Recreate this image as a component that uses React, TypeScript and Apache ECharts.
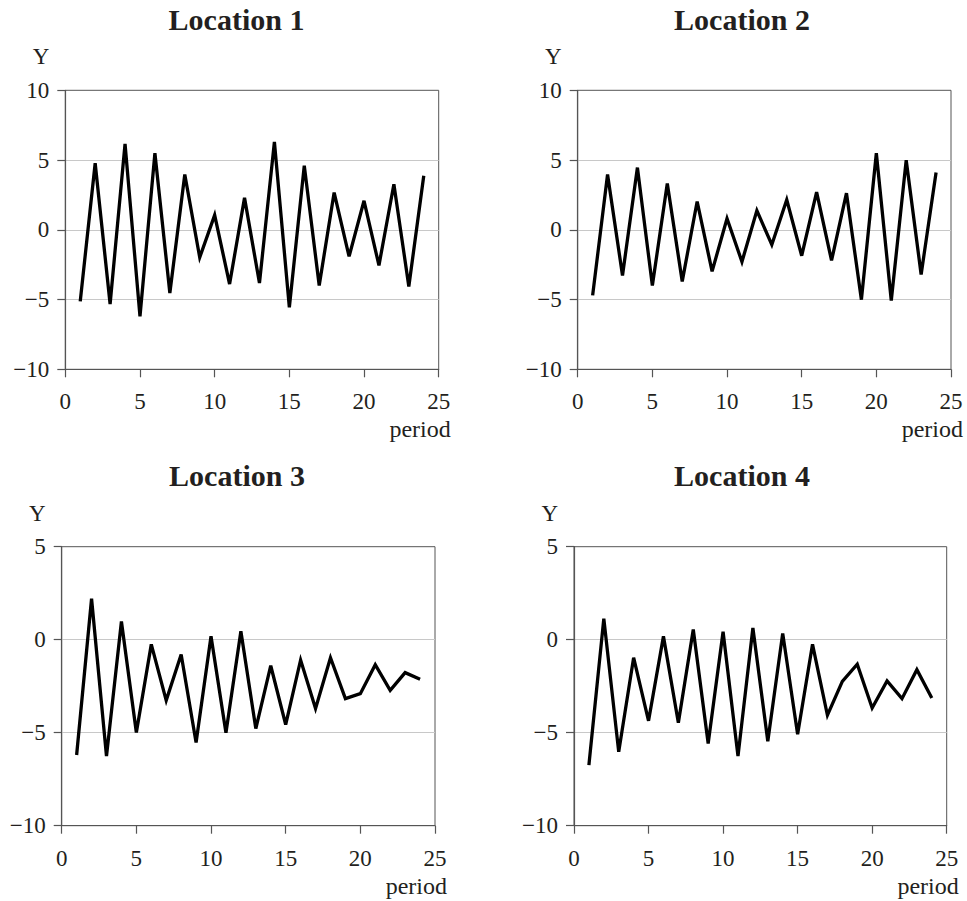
import React, { useEffect, useRef } from "react";
import * as echarts from "echarts";

const periods = Array.from({ length: 24 }, (_, i) => i + 1);

const titles = ["Location 1", "Location 2", "Location 3", "Location 4"];

const loc1 = [-5.13, 4.77, -5.32, 6.16, -6.2, 5.49, -4.53, 3.96, -1.98, 1.05, -3.89, 2.29, -3.82, 6.3, -5.56, 4.6, -3.99, 2.67, -1.91, 2.08, -2.55, 3.27, -4.06, 3.87];
const loc2 = [-4.7, 3.96, -3.27, 4.46, -4.0, 3.32, -3.7, 2.03, -2.98, 0.81, -2.29, 1.38, -1.07, 2.15, -1.86, 2.7, -2.2, 2.63, -5.01, 5.49, -5.08, 4.99, -3.2, 4.1];
const loc3 = [-6.2, 2.2, -6.26, 0.98, -4.99, -0.25, -3.26, -0.8, -5.53, 0.18, -5.0, 0.45, -4.78, -1.4, -4.56, -1.09, -3.7, -0.97, -3.17, -2.9, -1.34, -2.72, -1.77, -2.13];
const loc4 = [-6.74, 1.13, -6.03, -0.97, -4.36, 0.18, -4.47, 0.55, -5.58, 0.43, -6.26, 0.63, -5.46, 0.34, -5.08, -0.25, -4.06, -2.24, -1.32, -3.67, -2.22, -3.17, -1.61, -3.13];

const seriesValues = [loc1, loc2, loc3, loc4];
const yMin = [-10, -10, -10, -10];
const yMax = [10, 10, 5, 5];
const xMin = 0;
const xMax = 25;
const tickStep = 5;
const xName = "period";
const yName = "Y";

const grids = [
  { left: 65.3, top: 90.3, width: 373.4, height: 279 },
  { left: 577.7, top: 90.3, width: 373.3, height: 279 },
  { left: 61.7, top: 546.7, width: 373.3, height: 279 },
  { left: 574, top: 546.7, width: 372.7, height: 279 },
];
const titleCenters = [236.5, 742, 237, 742];

const FONT = "'Liberation Serif', 'DejaVu Serif', serif";
const TXT = "#231f20";
const AXIS = "#555555";

const fmt = (v: number) => String(v).replace("-", "\u2212");

export default function App() {
  const ref = useRef<HTMLDivElement>(null);
  useEffect(() => {
    if (!ref.current) return;
    const chart = echarts.init(ref.current, undefined, { renderer: "svg" });
    const option: any = {
      animation: false,
      backgroundColor: "#ffffff",
      title: titles.map((t, i) => ({
        text: t,
        left: titleCenters[i],
        top: grids[i].top - 86,
        textAlign: "center",
        padding: 0,
        textStyle: { fontFamily: FONT, fontWeight: "bold", fontSize: 30, color: TXT },
      })),
      grid: grids.map((g) => ({
        ...g,
        show: true,
        borderColor: AXIS,
        borderWidth: 1,
        containLabel: false,
      })),
      xAxis: grids.map((_, i) => ({
        type: "value",
        gridIndex: i,
        min: xMin,
        max: xMax,
        interval: tickStep,
        name: xName,
        nameLocation: "end",
        nameGap: 12,
        nameTextStyle: {
          fontFamily: FONT,
          fontSize: 24,
          color: TXT,
          align: "right",
          verticalAlign: "top",
          padding: [48, 0, 0, 0],
        },
        axisLine: { show: true, onZero: false, lineStyle: { color: AXIS, width: 1.2 } },
        axisTick: { show: true, length: 8, inside: false, lineStyle: { color: AXIS, width: 1.2 } },
        axisLabel: { fontFamily: FONT, fontSize: 23, color: TXT, margin: 21 },
        splitLine: { show: false },
      })),
      yAxis: grids.map((_, i) => ({
        type: "value",
        gridIndex: i,
        min: yMin[i],
        max: yMax[i],
        interval: tickStep,
        name: yName,
        nameLocation: "end",
        nameGap: 22,
        nameTextStyle: {
          fontFamily: FONT,
          fontSize: 23,
          color: TXT,
          align: "right",
          verticalAlign: "bottom",
          padding: [0, 16, 0, 0],
        },
        axisLine: { show: true, lineStyle: { color: AXIS, width: 1.2 } },
        axisTick: { show: true, length: 8, inside: false, lineStyle: { color: AXIS, width: 1.2 } },
        axisLabel: { fontFamily: FONT, fontSize: 23, color: TXT, margin: 16, formatter: fmt },
        splitLine: {
          show: true,
          showMinLine: false,
          showMaxLine: false,
          lineStyle: { color: "#c8c8c8", width: 1 },
        },
      })),
      series: seriesValues.map((vals, i) => ({
        type: "line",
        name: titles[i],
        xAxisIndex: i,
        yAxisIndex: i,
        data: periods.map((p, k) => [p, vals[k]]),
        showSymbol: false,
        symbol: "none",
        lineStyle: { color: "#000000", width: 3.3, join: "miter" },
        itemStyle: { color: "#000000" },
      })),
    };
    chart.setOption(option);
    return () => chart.dispose();
  }, []);
  return (
    <div
      ref={ref}
      style={{ position: "absolute", left: 0, top: 0, width: 967, height: 901, background: "#fff" }}
    />
  );
}
